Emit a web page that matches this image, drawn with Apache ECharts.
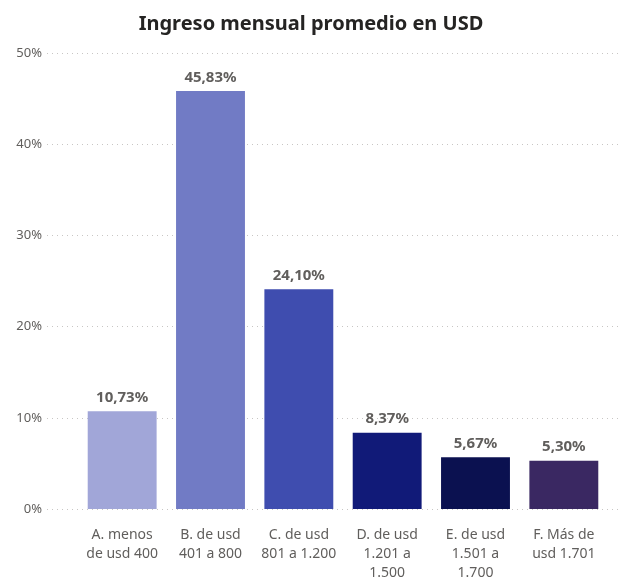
<!DOCTYPE html>
<html>
<head>
<meta charset="utf-8">
<script src="https://cdn.jsdelivr.net/npm/echarts@6/dist/echarts.min.js"></script>
<style>
  html, body { margin: 0; padding: 0; background: #fff; }
  #main { width: 622px; height: 579px; }
</style>
</head>
<body>
<div id="main"></div>
<script>
// categorias e ingreso
const categories = [
  'A. menos\nde usd 400',
  'B. de usd\n401 a 800',
  'C. de usd\n801 a 1.200',
  'D. de usd\n1.201 a\n1.500',
  'E. de usd\n1.501 a\n1.700',
  'F. Más de\nusd 1.701'
];
const values = [10.73, 45.83, 24.10, 8.37, 5.67, 5.30];
const barColors = ['#A1A6D8', '#717BC5', '#3F4DAF', '#111A78', '#0B1150', '#3A2862'];
const yTicks = [0, 10, 20, 30, 40, 50];

const chart = echarts.init(document.getElementById('main'));
const font = '"Noto Sans", "Open Sans", sans-serif';

const option = {
  animation: false,
  title: {
    text: 'Ingreso mensual promedio en USD',
    left: 'center',
    top: 9,
    textStyle: { fontFamily: font, fontSize: 20, fontWeight: 'bold', color: '#252423' }
  },
  grid: [
    { left: 47, right: 0, top: 53, bottom: 70, outerBoundsMode: 'none' },
    { left: 78, right: 14, top: 53, bottom: 70, outerBoundsMode: 'none' }
  ],
  xAxis: [
    { gridIndex: 0, type: 'category', data: [''], show: false },
    {
      gridIndex: 1,
      type: 'category',
      data: categories,
      axisLine: { show: false },
      axisTick: { show: false },
      axisLabel: {
        margin: 17,
        interval: 0,
        fontFamily: font,
        fontSize: 14,
        lineHeight: 19,
        color: '#605E5C'
      }
    }
  ],
  yAxis: [
    {
      gridIndex: 0,
      type: 'value',
      min: yTicks[0],
      max: yTicks[yTicks.length - 1],
      interval: 10,
      axisLine: { show: false },
      axisTick: { show: false },
      axisLabel: {
        margin: 5,
        fontFamily: font,
        fontSize: 13,
        color: '#605E5C',
        formatter: v => v + '%'
      },
      splitLine: { lineStyle: { type: [1, 4], color: '#C8C6C4', width: 1 } }
    },
    {
      gridIndex: 1,
      type: 'value',
      min: yTicks[0],
      max: yTicks[yTicks.length - 1],
      interval: 10,
      show: false,
      splitLine: { show: false }
    }
  ],
  series: [
    {
      type: 'bar',
      xAxisIndex: 1,
      yAxisIndex: 1,
      barCategoryGap: '22%',
      data: values.map((v, i) => ({ value: v, itemStyle: { color: barColors[i] } })),
      label: {
        show: true,
        position: 'top',
        distance: 6,
        fontFamily: font,
        fontSize: 15,
        fontWeight: 'bold',
        color: '#605E5C',
        formatter: p => p.value.toFixed(2).replace('.', ',') + '%'
      }
    }
  ]
};

chart.setOption(option);
window.addEventListener('resize', function () {
  chart.resize();
});
</script>
</body>
</html>
